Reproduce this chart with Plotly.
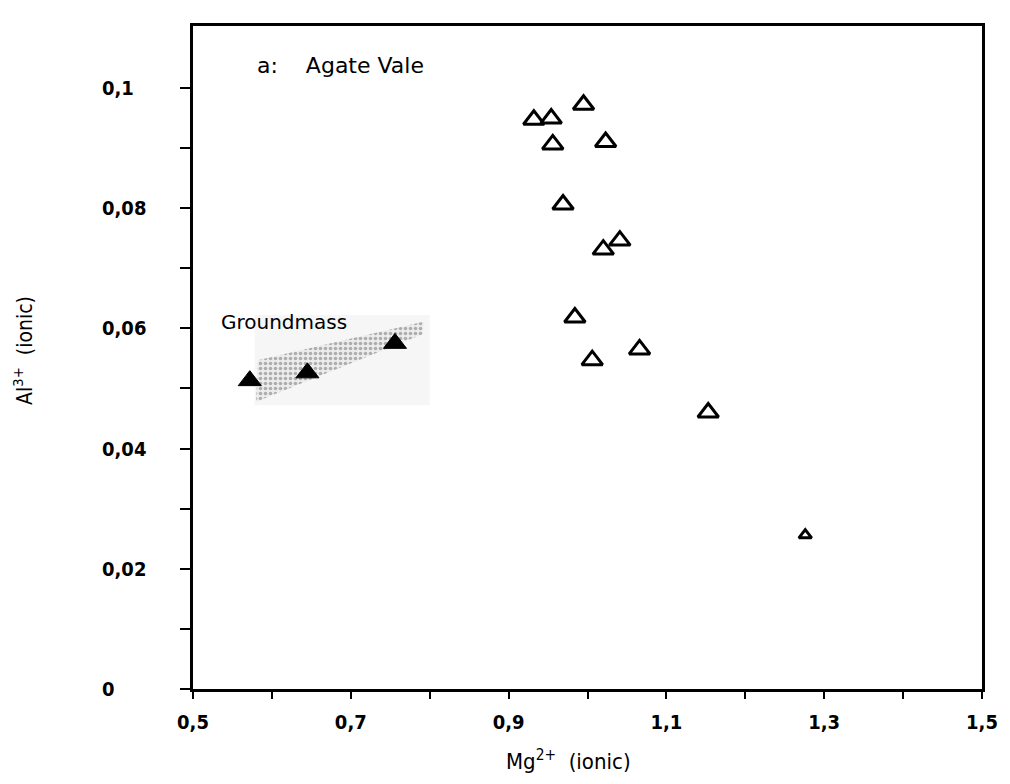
import plotly.graph_objects as go

# ---- data ----
open_x = [0.932, 0.954, 0.995, 0.956, 1.023, 0.969, 1.020, 1.041, 0.984, 1.006, 1.066, 1.153, 1.276]
open_y = [0.0947, 0.0949, 0.0972, 0.0906, 0.0910, 0.0806, 0.0731, 0.0746, 0.0618, 0.0547, 0.0565, 0.0460, 0.0256]
open_sizes = [18, 18, 18, 18, 18, 18, 18, 18, 18, 18, 18, 18, 11]

gm_x = [0.572, 0.645, 0.756]
gm_y = [0.0513, 0.0526, 0.0575]

band_x = [0.580, 0.582, 0.792, 0.791, 0.580]
band_y = [0.0478, 0.0547, 0.0611, 0.0590, 0.0478]

x_tickvals = [0.5, 0.7, 0.9, 1.1, 1.3, 1.5]
x_ticktext = ["0,5", "0,7", "0,9", "1,1", "1,3", "1,5"]
x_minor = [0.6, 0.8, 1.0, 1.2, 1.4]
y_tickvals = [0, 0.02, 0.04, 0.06, 0.08, 0.1]
y_ticktext = ["0", "0,02", "0,04", "0,06", "0,08", "0,1"]
y_minor = [0.01, 0.03, 0.05, 0.07, 0.09]

FONT_C = "DejaVu Sans Condensed, Liberation Sans Narrow, DejaVu Sans, sans-serif"
FONT = "DejaVu Sans, sans-serif"
TICKFONT = dict(family=FONT_C, size=20, color="black", weight="bold")

fig = go.Figure()

# faint background of the shaded field
fig.add_shape(type="rect", x0=0.578, x1=0.80, y0=0.0472, y1=0.0622,
              fillcolor="#f6f6f6", line=dict(width=0), layer="below")

# stippled groundmass band
fig.add_trace(go.Scatter(
    x=band_x, y=band_y, mode="lines", fill="toself",
    fillcolor="rgba(255,255,255,0)",
    fillpattern=dict(shape=".", fgcolor="#6e6e6e", bgcolor="#ececec", size=5, solidity=0.4),
    line=dict(width=0), hoverinfo="skip", showlegend=False))

fig.add_trace(go.Scatter(
    x=open_x, y=open_y, mode="markers", showlegend=False,
    marker=dict(symbol="triangle-up", size=open_sizes, color="white", opacity=1,
                line=dict(color="#000000", width=3))))

fig.add_trace(go.Scatter(
    x=gm_x, y=gm_y, mode="markers", showlegend=False,
    marker=dict(symbol="triangle-up", size=20, color="black", opacity=1,
                line=dict(color="black", width=1))))

fig.add_annotation(x=0.578, y=0.1038, xref="x", yref="y", xanchor="left", yanchor="middle",
                   text="a:\u00a0\u00a0\u00a0 Agate Vale", showarrow=False,
                   font=dict(family=FONT, size=22, color="black"))
fig.add_annotation(x=0.533, y=0.0611, xref="x", yref="y", xanchor="left", yanchor="middle",
                   text="Groundmass", showarrow=False,
                   font=dict(family=FONT, size=20, color="black"))

fig.add_annotation(x=0.476, y=-0.107, xref="paper", yref="paper", xanchor="center", yanchor="middle",
                   text="Mg<sup>2+</sup>\u00a0 (ionic)", showarrow=False,
                   font=dict(family=FONT_C, size=22, color="black"))
fig.add_annotation(x=-0.2146, y=0.511, xref="paper", yref="paper", xanchor="center", yanchor="middle",
                   text="Al<sup>3+</sup>\u00a0 (ionic)", showarrow=False, textangle=-90,
                   font=dict(family=FONT_C, size=21, color="black"))

# y tick labels are left-aligned in the reference
for v, t in zip(y_tickvals, y_ticktext):
    fig.add_annotation(x=-0.118, y=v, xref="paper", yref="y", xanchor="left", yanchor="middle",
                       text=t, showarrow=False, font=TICKFONT)

fig.update_xaxes(range=[0.5, 1.5], tickmode="array", tickvals=x_tickvals, ticktext=x_ticktext,
                 ticks="outside", ticklen=7, tickwidth=2, tickcolor="black",
                 minor=dict(tickmode="array", tickvals=x_minor, ticks="outside", ticklen=7,
                            tickwidth=2, tickcolor="black"),
                 showline=True, linecolor="black", linewidth=2.5, mirror=True,
                 showgrid=False, zeroline=False, ticklabelstandoff=6,
                 tickfont=TICKFONT)
fig.update_yaxes(range=[0, 0.1103], tickmode="array", tickvals=y_tickvals, ticktext=y_ticktext,
                 showticklabels=False,
                 ticks="outside", ticklen=10, tickwidth=2, tickcolor="black",
                 minor=dict(tickmode="array", tickvals=y_minor, ticks="outside", ticklen=10,
                            tickwidth=2, tickcolor="black"),
                 showline=True, linecolor="black", linewidth=2.5, mirror=True,
                 showgrid=False, zeroline=False)

fig.update_layout(width=1010, height=784, margin=dict(l=193, r=25, t=26, b=95),
                  paper_bgcolor="white", plot_bgcolor="white")

fig.write_html("out.html")
